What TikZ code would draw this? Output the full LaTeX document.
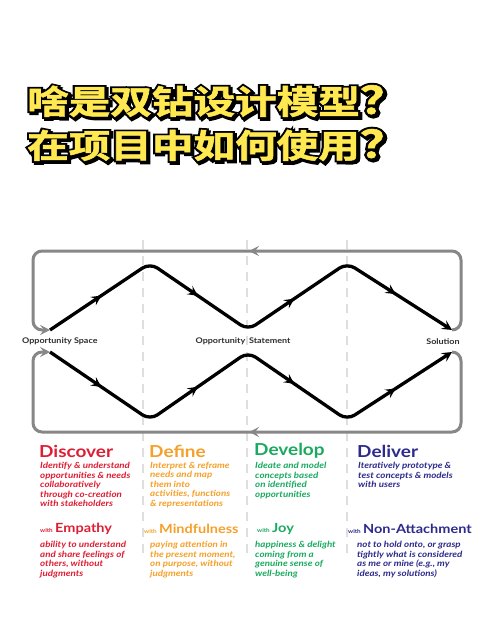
\documentclass[tikz,border=0pt]{standalone}
\usepackage{fontspec}
\setmainfont{Lato}
\newfontfamily\cjkfill{Noto Sans CJK SC Bold}[FakeBold=1.5]
\newfontfamily\cjkedge{Noto Sans CJK SC Bold}[FakeBold=12]
\newfontfamily\widefont{Lato}[FakeStretch=1.15]
\usetikzlibrary{positioning,arrows.meta,decorations.markings,calc}
\definecolor{discoverred}{RGB}{222,30,52}
\definecolor{defineorange}{RGB}{245,160,40}
\definecolor{developgreen}{RGB}{25,170,95}
\definecolor{deliverblue}{RGB}{45,42,140}
\definecolor{loopgray}{RGB}{135,135,135}
\definecolor{dashgray}{RGB}{222,222,222}
\definecolor{titleyellow}{RGB}{255,232,80}
\definecolor{labeldark}{RGB}{45,45,45}
\newcommand{\bigq}{{\fontsize{38}{38}\selectfont ？}}

\tikzset{
  swept/.tip={Stealth[length=10pt,width=10pt,inset=4pt]},
  blackpath/.style={line width=3.3pt, black, rounded corners=9pt},
  looppath/.style={line width=3pt, loopgray, rounded corners=9pt},
  divider/.style={line width=1.6pt, dashgray, dash pattern=on 9pt off 7pt},
  midtips/.style={postaction=decorate, decoration={markings,
      mark=at position 0.13 with {\arrow{swept}},
      mark=at position 0.37 with {\arrow{swept}},
      mark=at position 0.61 with {\arrow{swept}},
      mark=at position 0.86 with {\arrow{swept}}}},
  looptip/.style={postaction=decorate, decoration={markings,
      mark=at position 0.49 with {\arrow{swept}}}},
  titleedge/.style={anchor=west, inner sep=0pt, xscale=1.26, transform shape, text=black,
      font=\cjkedge\fontsize{33}{33}\selectfont},
  titlefill/.style={anchor=west, inner sep=0pt, xscale=1.26, transform shape, text=titleyellow,
      font=\cjkfill\fontsize{33}{33}\selectfont},
  stagelabel/.style={inner sep=0pt, text=labeldark, font=\widefont\bfseries\fontsize{7.8}{8}\selectfont},
  heading/.style={anchor=west, inner sep=0pt, font=\widefont\bfseries\fontsize{16.5}{16.5}\selectfont},
  subheading/.style={anchor=west, inner sep=0pt, font=\widefont\bfseries\fontsize{12.6}{13}\selectfont},
  withtag/.style={anchor=base east, inner sep=0pt, font=\widefont\bfseries\fontsize{5.5}{6}\selectfont},
  desc/.style={anchor=north west, inner sep=0pt, align=left,
      font=\widefont\bfseries\itshape\fontsize{8.5}{9.5}\selectfont}
}

\begin{document}
\begin{tikzpicture}[x=1pt, y=-1pt]
    \useasboundingbox[fill=white] (0,0) rectangle (500,628);

    % Title: shadow, black edge, yellow fill
    \node[titleedge] (title1shadow) at (29,103) {啥是双钻设计模型\bigq};
    \node[titleedge] (title2shadow) at (29,147) {在项目中如何使用\bigq};
    \node[titleedge] (title1edge) at (27,101) {啥是双钻设计模型\bigq};
    \node[titleedge] (title2edge) at (27,145) {在项目中如何使用\bigq};
    \node[titlefill] (title1) at (27,101) {啥是双钻设计模型\bigq};
    \node[titlefill] (title2) at (27,145) {在项目中如何使用\bigq};

    % Dashed dividers
    \foreach \x/\n in {143/one,247/two,347/three} {
        \coordinate (div\n top) at (\x,240);
        \coordinate (div\n bot) at (\x,560);
        \draw[divider] (div\n top) -- (div\n bot);
    }

    % Stage labels
    \node[stagelabel, anchor=west] (space) at (22,341) {Opportunity Space};
    \node[stagelabel] (statement) at (243,341) {Opportunity\enspace Statement};
    \node[stagelabel] (solution) at (443,342) {Solution};

    % Path corners
    \coordinate (start top) at (50,330);
    \coordinate (start bot) at (50,352);
    \coordinate (peak one) at (150,263);
    \coordinate (peak two) at (347,263);
    \coordinate (dip one) at (150,420);
    \coordinate (dip two) at (347,420);
    \coordinate (mid top) at (248,330);
    \coordinate (mid bot) at (248,352);
    \coordinate (end top) at (452,330);
    \coordinate (end bot) at (452,352);

    % Gray loops
    \draw[looppath, looptip, -{swept}] (end top) -- ++(9,0) |- (33,251) |- (start top);
    \draw[looppath, looptip, -{swept}] (end bot) -- ++(9,0) |- (33,432) |- (start bot);

    % Double diamond
    \draw[blackpath, midtips, -{swept}] (start top) -- (peak one) -- (mid top) -- (peak two) -- (end top);
    \draw[blackpath, midtips, -{swept}] (start bot) -- (dip one) -- (mid bot) -- (dip two) -- (end bot);

    % Stages
    \node[heading, text=discoverred] (discover) at (39,451) {Discover};
    \node[heading, text=defineorange] (define) at (149,451) {Define};
    \node[heading, text=developgreen] (develop) at (254,451) {Develop};
    \node[heading, text=deliverblue] (deliver) at (357,451) {Deliver};

    \node[desc, text=discoverred] (discoverdesc) at (40,462) {Identify \& understand\\opportunities \& needs\\collaboratively\\through co-creation\\with stakeholders};
    \node[desc, text=defineorange] (definedesc) at (150,462) {Interpret \& reframe\\needs and map\\them into\\activities, functions\\\& representations};
    \node[desc, text=developgreen] (developdesc) at (255,462) {Ideate and model\\concepts based\\on identified\\opportunities};
    \node[desc, text=deliverblue] (deliverdesc) at (358,462) {Iteratively prototype \&\\test concepts \& models\\with users};

    % Mindsets
    \node[subheading, text=discoverred] (empathy) at (55,529) {Empathy};
    \node[subheading, text=defineorange] (mindful) at (159,529) {Mindfulness};
    \node[subheading, text=developgreen] (joy) at (272,529) {Joy};
    \node[subheading, text=deliverblue] (nonattach) at (363,529) {Non-Attachment};
    \foreach \m/\c in {empathy/discoverred,mindful/defineorange,joy/developgreen,nonattach/deliverblue}
        \node[withtag, text=\c, left=2pt of \m.base west, anchor=base east] (with\m) {with};

    \node[desc, text=discoverred] (empathydesc) at (40,541) {ability to understand\\and share feelings of\\others, without\\judgments};
    \node[desc, text=defineorange] (minddesc) at (150,541) {paying attention in\\the present moment,\\on purpose, without\\judgments};
    \node[desc, text=developgreen] (joydesc) at (255,541) {happiness \& delight\\coming from a\\genuine sense of\\well-being};
    \node[desc, text=deliverblue] (nonattachdesc) at (357,541) {not to hold onto, or grasp\\tightly what is considered\\as me or mine (e.g., my\\ideas, my solutions)};
\end{tikzpicture}
\end{document}
